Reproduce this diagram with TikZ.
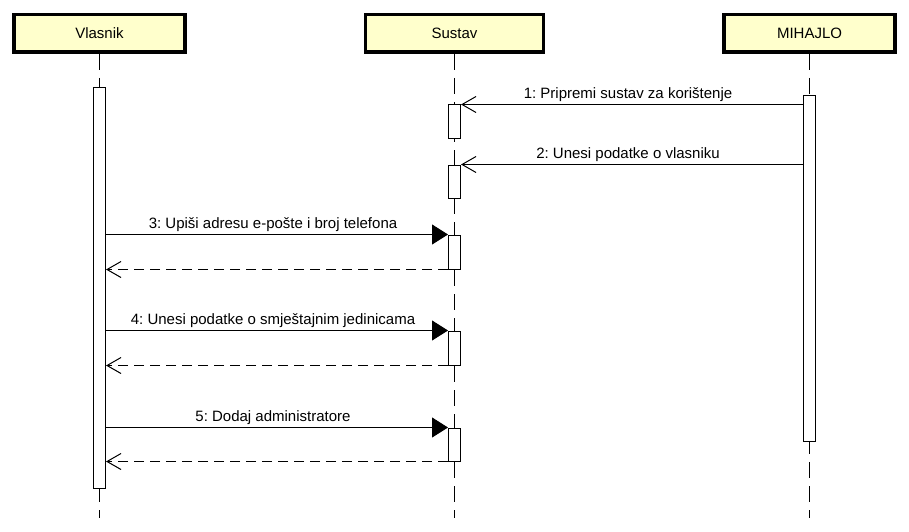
\documentclass[tikz,border=0pt]{standalone}
\usepackage{fontspec}
\setmainfont{Liberation Sans}
\usetikzlibrary{arrows.meta, positioning}
\definecolor{actorcolor}{RGB}{255,255,204}
\frenchspacing

\begin{document}
\begin{tikzpicture}[
    x=1pt, y=-1pt,
    actor/.style={draw, line width=3.5pt, fill=actorcolor, minimum height=37.5pt, font=\fontsize{15}{18}\selectfont},
    lifeline/.style={line width=1pt, dash pattern=on 16pt off 8pt},
    bar/.style={draw, fill=white, line width=1pt, minimum width=12pt, inner sep=0pt},
    call/.style={-{Triangle[length=16pt, width=20pt]}, line width=1pt},
    async/.style={-{Straight Barb[length=14pt, width=16pt]}, line width=1pt},
    reply/.style={-{Straight Barb[length=14pt, width=16pt]}, line width=1pt, dash pattern=on 10pt off 6pt},
    msg/.style={above, inner sep=2pt, font=\fontsize{15}{18}\selectfont}
]
    \useasboundingbox (0,0) rectangle (909,532);

    % Actors
    \node[actor, minimum width=171pt] (vlasnik) at (99.5,33.5) {Vlasnik};
    \node[actor, minimum width=178pt] (sustav) at (454.5,33.5) {Sustav};
    \node[actor, minimum width=171pt] (mihajlo) at (809.5,33.5) {MIHAJLO};

    % Lifelines
    \coordinate (vlasnik-end) at (99.5,518);
    \coordinate (sustav-end) at (454.5,518);
    \coordinate (mihajlo-end) at (809.5,518);
    \draw[lifeline] (vlasnik) -- (vlasnik-end);
    \draw[lifeline] (sustav) -- (sustav-end);
    \draw[lifeline] (mihajlo) -- (mihajlo-end);

    % Activations
    \node[bar, minimum height=400pt] (vbar) at (99.5,288) {};
    \node[bar, minimum height=345pt] (mbar) at (809.5,268.5) {};
    \node[bar, minimum height=33pt] (s1) at (454.5,121.5) {};
    \node[bar, minimum height=33pt] (s2) at (454.5,181.5) {};
    \node[bar, minimum height=34pt] (s3) at (454.5,252) {};
    \node[bar, minimum height=34pt] (s4) at (454.5,348) {};
    \node[bar, minimum height=33pt] (s5) at (454.5,444.5) {};

    % Messages
    \draw[async] (mbar.west |- s1.north) -- node[msg, xshift=-4pt] {1: Pripremi sustav za korištenje} (s1.north east);
    \draw[async] (mbar.west |- s2.north) -- node[msg, xshift=-4pt] {2: Unesi podatke o vlasniku} (s2.north east);
    \draw[call] (vbar.east |- s3.north) -- node[msg, xshift=-4pt] {3: Upiši adresu e-pošte i broj telefona} (s3.north west);
    \draw[reply] (s3.south west) -- (vbar.east |- s3.south);
    \draw[call] (vbar.east |- s4.north) -- node[msg, xshift=-4pt] {4: Unesi podatke o smještajnim jedinicama} (s4.north west);
    \draw[reply] (s4.south west) -- (vbar.east |- s4.south);
    \draw[call] (vbar.east |- s5.north) -- node[msg, xshift=-4pt] {5: Dodaj administratore} (s5.north west);
    \draw[reply] (s5.south west) -- (vbar.east |- s5.south);
\end{tikzpicture}
\end{document}
